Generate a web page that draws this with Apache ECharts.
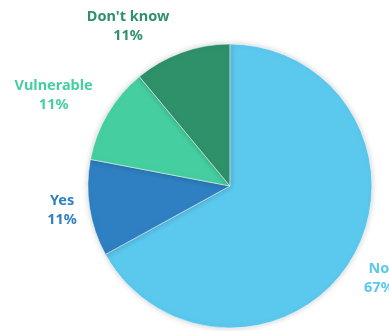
<!DOCTYPE html>
<html>
<head>
<meta charset="utf-8">
<script src="https://cdn.jsdelivr.net/npm/echarts@6/dist/echarts.min.js"></script>
<style>
  html, body { margin: 0; padding: 0; background: #ffffff; }
  #chart { width: 389px; height: 331px; }
</style>
</head>
<body>
<div id="chart"></div>
<script>
// Survey answers, clockwise from the top
const categories = ['No', 'Yes', 'Vulnerable', "Don't know"];
const shares = [67, 11, 11, 11];
const sliceColors = ['#5bc8ee', '#2f80c2', '#45cfa0', '#2e916a'];

// Small per-label shifts [dx, dy] applied after the outside label layout
const labelNudge = [[-12, 9], [14, -1], [9, -7], [0, -5]];

const chart = echarts.init(document.getElementById('chart'), null, { renderer: 'canvas' });

const data = categories.map((name, i) => ({
  name: name,
  value: shares[i],
  itemStyle: { color: sliceColors[i] },
  label: { color: sliceColors[i] }
}));

chart.setOption({
  animation: false,
  series: [{
    type: 'pie',
    center: ['59.1%', '56.2%'],
    radius: 142,
    startAngle: 90,
    clockwise: true,
    avoidLabelOverlap: false,
    itemStyle: {
      borderColor: 'rgba(255,255,255,0.5)',
      borderWidth: 1,
      shadowBlur: 6,
      shadowColor: 'rgba(0,0,0,0.2)'
    },
    label: {
      show: true,
      position: 'outside',
      fontFamily: 'Noto Sans',
      fontWeight: 'bold',
      fontSize: 14.5,
      lineHeight: 19,
      formatter: p => p.name + '\n' + p.value + '%'
    },
    labelLine: { show: false, length: 22, length2: 0 },
    labelLayout: function (params) {
      const r = params.labelRect;
      const n = labelNudge[params.dataIndex];
      return {
        x: r.x + r.width / 2 + n[0],
        y: r.y + r.height / 2 + n[1],
        align: 'center',
        verticalAlign: 'middle'
      };
    },
    data: data
  }]
});
</script>
</body>
</html>
